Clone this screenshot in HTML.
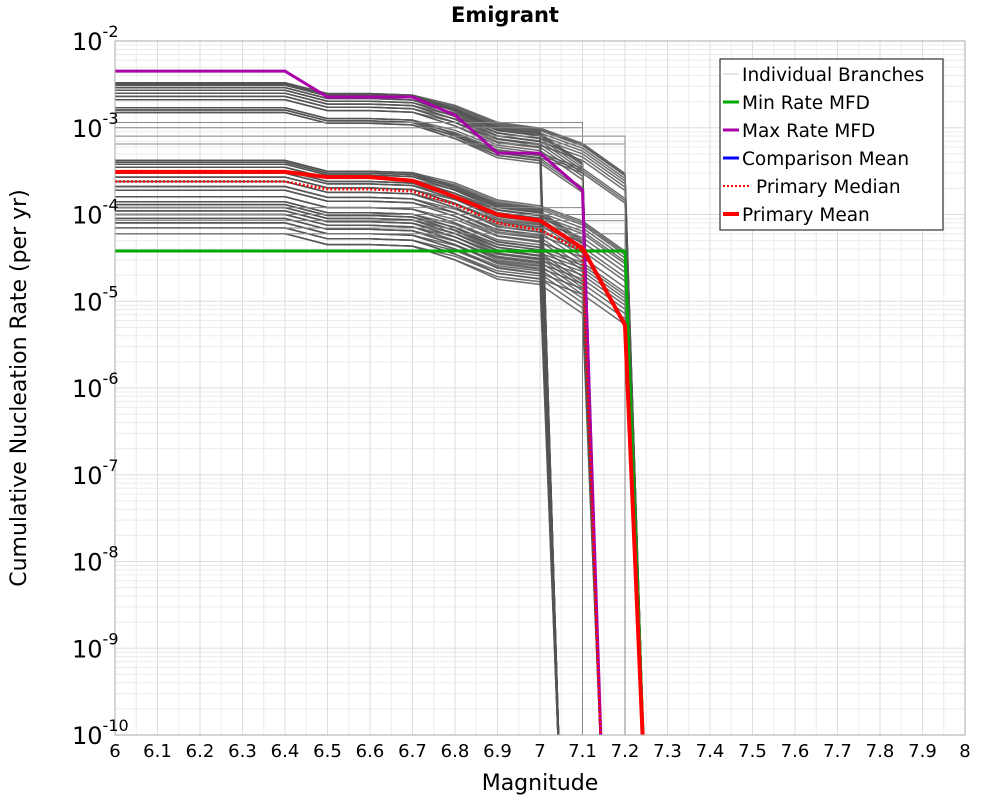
<!DOCTYPE html>
<html><head><meta charset="utf-8"><style>
body{margin:0;background:#fff;}
svg text{font-family:"DejaVu Sans","Liberation Sans",sans-serif;}
</style></head><body>
<svg id="chart" width="1000" height="800" xmlns="http://www.w3.org/2000/svg">
<defs><clipPath id="pc"><rect x="115" y="41" width="850" height="694"/></clipPath></defs>
<rect x="0" y="0" width="1000" height="800" fill="#fff"/>
<g id="grid"></g>
<g id="branches" clip-path="url(#pc)"></g>
<g id="summary" clip-path="url(#pc)"></g>
<rect x="115" y="41" width="850" height="694" fill="none" stroke="#aaa"/>
<g id="axes"></g>
<text x="505" y="22" text-anchor="middle" font-size="21" font-weight="bold">Emigrant</text>
<text x="540" y="790" text-anchor="middle" font-size="22">Magnitude</text>
<text transform="translate(26,388) rotate(-90)" text-anchor="middle" font-size="22">Cumulative Nucleation Rate (per yr)</text>
<g>
<rect x="720" y="59" width="223" height="171" fill="#fff" stroke="#333" stroke-width="1.2"/>
<g font-size="18.5">
<line x1="723" y1="74" x2="739" y2="74" stroke="#ccc" stroke-width="1"/><text x="742" y="81">Individual Branches</text>
<line x1="723" y1="102" x2="739" y2="102" stroke="#00aa00" stroke-width="3"/><text x="742" y="109">Min Rate MFD</text>
<line x1="723" y1="130" x2="739" y2="130" stroke="#aa00aa" stroke-width="3"/><text x="742" y="137">Max Rate MFD</text>
<line x1="723" y1="158" x2="739" y2="158" stroke="#0000ff" stroke-width="3"/><text x="742" y="165">Comparison Mean</text>
<line x1="723" y1="186" x2="751" y2="186" stroke="#ff0000" stroke-width="2" stroke-dasharray="2,2"/><text x="756" y="193">Primary Median</text>
<line x1="723" y1="214" x2="739" y2="214" stroke="#ff0000" stroke-width="4"/><text x="742" y="221">Primary Mean</text>
</g></g>
</svg>
<script>
const NS="http://www.w3.org/2000/svg";
const mags=[6.0,6.1,6.2,6.3,6.4,6.5,6.6,6.7,6.8,6.9,7.0,7.1,7.2];
const maxRate=[4.5e-3,4.5e-3,4.5e-3,4.5e-3,4.5e-3,2.26e-3,2.26e-3,2.26e-3,1.4e-3,5.1e-4,5.1e-4,1.9e-4,null];
const meanRate=[3.1e-4,3.1e-4,3.1e-4,3.1e-4,3.1e-4,2.7e-4,2.7e-4,2.45e-4,1.6e-4,1.0e-4,8.5e-5,4.1e-5,5.3e-6];
const medianRate=[2.4e-4,2.4e-4,2.4e-4,2.4e-4,2.4e-4,1.95e-4,1.95e-4,1.85e-4,1.3e-4,8e-5,6.6e-5,3.8e-5,null];
const minRate=[3.8e-5,3.8e-5,3.8e-5,3.8e-5,3.8e-5,3.8e-5,3.8e-5,3.8e-5,3.8e-5,3.8e-5,3.8e-5,3.8e-5,3.8e-5];
const shapeA=[1,1,1,1,1,0.75,0.75,0.72,0.5,0.32,0.28,null,null];
const shapeB=[1,1,1,1,1,0.75,0.75,0.72,0.5,0.3,0.26,0.12,null];
const shapeC=[1,1,1,1,1,0.75,0.75,0.72,0.55,0.35,0.3,0.2,0.09];
const branchScales=[3.3e-3,3.2e-3,3.1e-3,2.9e-3,2.7e-3,2.5e-3,2.3e-3,2.1e-3,1.7e-3,1.6e-3,1.5e-3,4.2e-4,4e-4,3.8e-4,3.5e-4,3.2e-4,3e-4,2.7e-4,2.4e-4,2.1e-4,1.9e-4,1.6e-4,1.4e-4,1.3e-4,1.2e-4,1.1e-4,1.0e-4,9e-5,8e-5,7e-5,6e-5];
const flatLevels=[1.15e-3,1.0e-3,8e-4,6.5e-4,1.2e-4,1.0e-4,8.5e-5,7e-5,6e-5];
const flatMmax=[7.1,7.1,7.2,7.2,7.1,7.2,7.2,7.1,7.2];
const xTicks=[6,6.1,6.2,6.3,6.4,6.5,6.6,6.7,6.8,6.9,7,7.1,7.2,7.3,7.4,7.5,7.6,7.7,7.8,7.9,8];
const yExps=[-2,-3,-4,-5,-6,-7,-8,-9,-10];
const X0=115,X1=965,Y0=41,Y1=735;
const xs=m=>X0+(m-6)/2*(X1-X0);
const ys=v=>{let l=Math.log10(v);return Y0+(-2-l)/8*(Y1-Y0);};
function mk(tag,attrs,parent){const e=document.createElementNS(NS,tag);for(const k in attrs)e.setAttribute(k,attrs[k]);parent.appendChild(e);return e;}
const grid=document.getElementById('grid');
for(let e=-10;e<-2;e++)for(let k=1;k<10;k++){const y=ys(k*Math.pow(10,e));
 const l=mk('line',{x1:X0,x2:X1,y1:y,y2:y,stroke:k==1?'#ddd':'#ececec','stroke-width':1},grid);
 
 }
for(let i=0;i<=40;i++){const x=xs(6+i*0.05);
 const l=mk('line',{x1:x,x2:x,y1:Y0,y2:Y1,stroke:i%2==0?'#ddd':'#ececec','stroke-width':1},grid);
 
 }
function pathD(vals){let d='',last=0;
 vals.forEach((v,i)=>{if(v==null)return;d+=(d?'L':'M')+xs(mags[i]).toFixed(1)+','+ys(v).toFixed(1);last=i;});
 d+='L'+xs(mags[last]+0.05).toFixed(1)+','+ys(1e-11).toFixed(1);return d;}
const br=document.getElementById('branches');
[shapeA,shapeB,shapeC].forEach(sh=>{branchScales.forEach(s=>{
 const p=mk('path',{d:pathD(sh.map(r=>r==null?null:r*s)),fill:'none',stroke:'#555','stroke-width':1.5,'stroke-opacity':0.85},br);
 
 });});
flatLevels.forEach((v,i)=>{const mx=flatMmax[i];
 const d='M'+xs(6)+','+ys(v)+'L'+xs(mx)+','+ys(v)+'L'+xs(mx)+','+ys(1e-11);
 const p=mk('path',{d:d,fill:'none',stroke:'#888','stroke-width':1},br);
 
 });
const sm=document.getElementById('summary');
[[minRate,'#00aa00',3,null,'min-rate-line'],[maxRate,'#aa00aa',3,null,'max-rate-line'],[medianRate,'#ff0000',2.5,'2,2','primary-median-line'],[meanRate,'#ff0000',4,null,'primary-mean-line']].forEach(s=>{
 const a={d:pathD(s[0]),fill:'none',stroke:s[1],'stroke-width':s[2]};if(s[3])a['stroke-dasharray']=s[3];
 const p=mk('path',a,sm);
 
 });
const ax=document.getElementById('axes');
xTicks.forEach(t=>{const tx=mk('text',{x:xs(t),y:757,'text-anchor':'middle','font-size':18},ax);tx.textContent=String(t);
 
 });
yExps.forEach(e=>{const y=ys(Math.pow(10,e));
 const tx=mk('text',{x:72,y:y+9,'font-size':24},ax);
 
 
 tx.textContent='10';
 const sp=mk('tspan',{dy:-13,'font-size':16},tx);sp.textContent=String(e);});
</script>
</body></html>
